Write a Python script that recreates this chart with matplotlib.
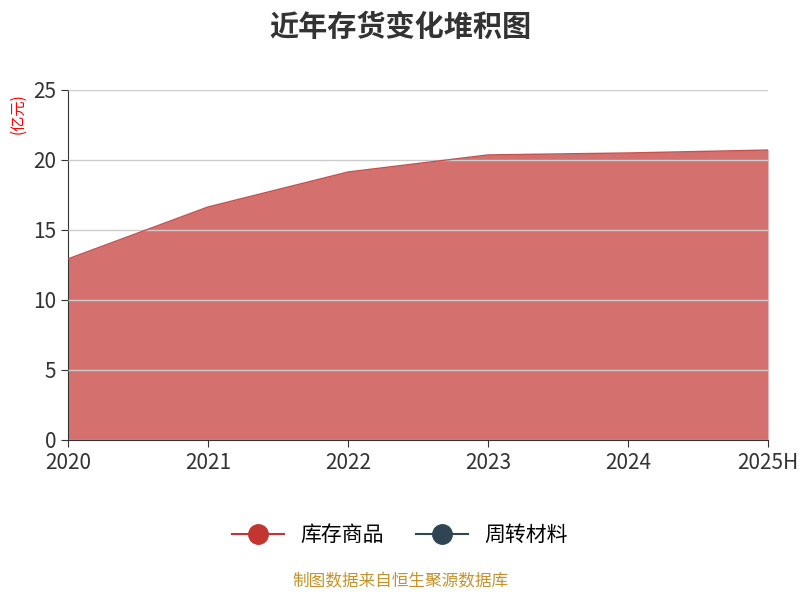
import matplotlib
matplotlib.use("Agg")
import matplotlib.pyplot as plt

plt.rcParams['font.family'] = ['Noto Sans CJK SC', 'DejaVu Sans']

years = ["2020", "2021", "2022", "2023", "2024", "2025H"]
goods = [12.93, 16.64, 19.14, 20.36, 20.5, 20.71]
materials = [0.02, 0.02, 0.02, 0.02, 0.02, 0.02]

fig = plt.figure(figsize=(8, 6), dpi=100)
ax = fig.add_axes([0.085, 0.267, 0.875, 0.583])
x = list(range(len(years)))
top = [g + m for g, m in zip(goods, materials)]
ax.fill_between(x, 0, goods, color='#d4706d', lw=0, zorder=2)
ax.plot(x, goods, color='#c8504d', lw=1, zorder=3)
ax.fill_between(x, goods, top, color='#4a5a6a', lw=0, zorder=2)
ax.set_xlim(0, 5)
ax.set_ylim(0, 25)
ax.set_yticks([0, 5, 10, 15, 20, 25])
ax.set_xticks(x)
ax.set_xticklabels(years)
ax.grid(axis='y', color='#cccccc', lw=1, zorder=1)
for s in ['top', 'right']:
    ax.spines[s].set_visible(False)
ax.spines['left'].set_color('#333333')
ax.spines['bottom'].set_color('#333333')
ax.tick_params(labelsize=15, colors='#333333', length=5)
ax.set_axisbelow(False)
fig.text(0.012, 0.81, "(亿元)", rotation=90, color='red', fontsize=11, ha='left', va='center')
fig.text(0.5, 0.955, "近年存货变化堆积图", ha='center', va='center', fontsize=21, fontweight='bold', color='#333333')

from matplotlib.lines import Line2D
h = [Line2D([0], [0], color='#c23531', marker='o', markersize=14, lw=1.5),
     Line2D([0], [0], color='#2f4554', marker='o', markersize=14, lw=1.5)]
fig.legend(h, ["库存商品", "周转材料"], loc='center', bbox_to_anchor=(0.5, 0.108), ncol=2,
           frameon=False, fontsize=15, handlelength=2.5, columnspacing=1.5)
fig.text(0.5, 0.017, "制图数据来自恒生聚源数据库", ha='center', va='bottom', fontsize=12, color='#c8922a')
fig.savefig("out.png")
